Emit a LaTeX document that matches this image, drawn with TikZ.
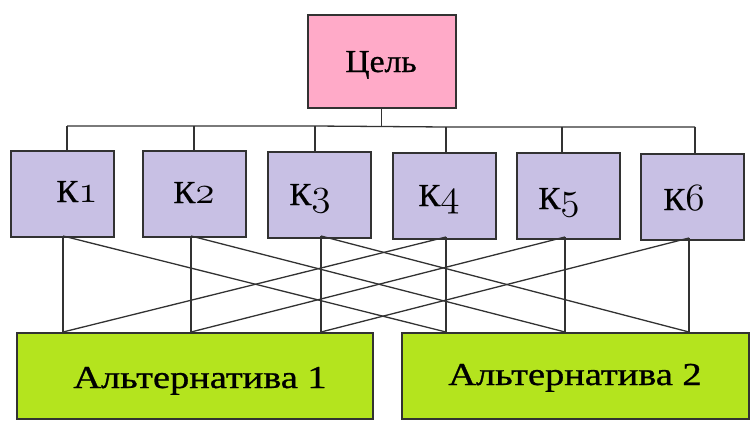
\documentclass[tikz,border=0pt]{standalone}
\usepackage{fontspec}
\usepackage{graphicx}
\setmainfont{Liberation Serif}
\newfontfamily\heavyfont{Liberation Serif}[FakeBold=0.8]
\definecolor{goalc}{RGB}{255,170,200}
\definecolor{critc}{RGB}{200,192,228}
\definecolor{altc}{RGB}{180,228,30}
\definecolor{linec}{RGB}{50,50,50}
\newcommand{\osdig}[1]{\scalebox{1.55}{\fontsize{24}{26}\usefont{OML}{cmm}{m}{it}#1}}
\newcommand{\wide}[2]{\scalebox{#1}[1]{#2}}
\begin{document}
\begin{tikzpicture}[x=1pt,y=-1pt,
  box/.style={draw=linec, line width=1.6pt, inner sep=0pt, anchor=north west},
  critbox/.style={box, fill=critc, minimum width=103pt, minimum height=86pt},
  wire/.style={draw=linec, line width=1.3pt},
  txt/.style={inner sep=0pt, anchor=base, text=black, font=\heavyfont\fontsize{32}{36}\selectfont}]
\useasboundingbox (0,0) rectangle (750,426);
% boxes
\node[box, fill=goalc, minimum width=148pt, minimum height=93pt] (goal) at (307,14) {};
\node[critbox] (k1) at (10,150) {};
\node[critbox] (k2) at (142,150) {};
\node[critbox] (k3) at (267,151) {};
\node[critbox] (k4) at (392,152) {};
\node[critbox] (k5) at (516,152) {};
\node[critbox] (k6) at (640,153) {};
\node[box, fill=altc, minimum width=356pt, minimum height=86pt] (a1) at (16,332) {};
\node[box, fill=altc, minimum width=347pt, minimum height=86pt] (a2) at (401,332) {};
% texts
\node[txt] (tgoal) at (381,72) {\wide{1.05}{Цель}};
\node[txt] (tk1) at (77,202) {\wide{1.02}{К\osdig{1}}};
\node[txt] (tk2) at (194,203) {\wide{1.02}{К\osdig{2}}};
\node[txt] (tk3) at (310,205) {\wide{1.02}{К\osdig{3}}};
\node[txt] (tk4) at (439,206) {\wide{1.02}{К\osdig{4}}};
\node[txt] (tk5) at (559,209) {\wide{1.02}{К\osdig{5}}};
\node[txt] (tk6) at (684,210) {\wide{1.02}{К\osdig{6}}};
\node[txt] (ta1) at (200,388) {\wide{1.2}{Альтернатива 1}};
\node[txt] (ta2) at (575,385) {\wide{1.2}{Альтернатива 2}};
% bus coordinates
\coordinate (u1) at (67,126);
\coordinate (u2) at (194,126);
\coordinate (u3) at (315,126);
\coordinate (u4) at (446,127);
\coordinate (u5) at (562,127);
\coordinate (u6) at (695,127);
\draw[wire] (u1) -- (u3) -- (u4) -- (u6);
\draw[wire] (goal.south) -- (goal.south |- u4);
\foreach \i in {1,...,6}{\draw[wire] (u\i) -- (u\i |- k\i.north);}
% lower connection points
\coordinate (d1) at (63,236);
\coordinate (d2) at (191,236);
\coordinate (d3) at (321,236);
\coordinate (d4) at (446,237);
\coordinate (d5) at (565,237);
\coordinate (d6) at (689,238);
\coordinate (e1) at (63,332);
\coordinate (e2) at (191,332);
\coordinate (e3) at (321,332);
\coordinate (e4) at (446,332);
\coordinate (e5) at (565,332);
\coordinate (e6) at (689,332);
\foreach \i in {1,...,6}{\draw[wire] (d\i) -- (e\i);}
\draw[wire] (d1) -- (e4);
\draw[wire] (d2) -- (e5);
\draw[wire] (d3) -- (e6);
\draw[wire] (d4) -- (e1);
\draw[wire] (d5) -- (e2);
\draw[wire] (d6) -- (e3);
\end{tikzpicture}
\end{document}
